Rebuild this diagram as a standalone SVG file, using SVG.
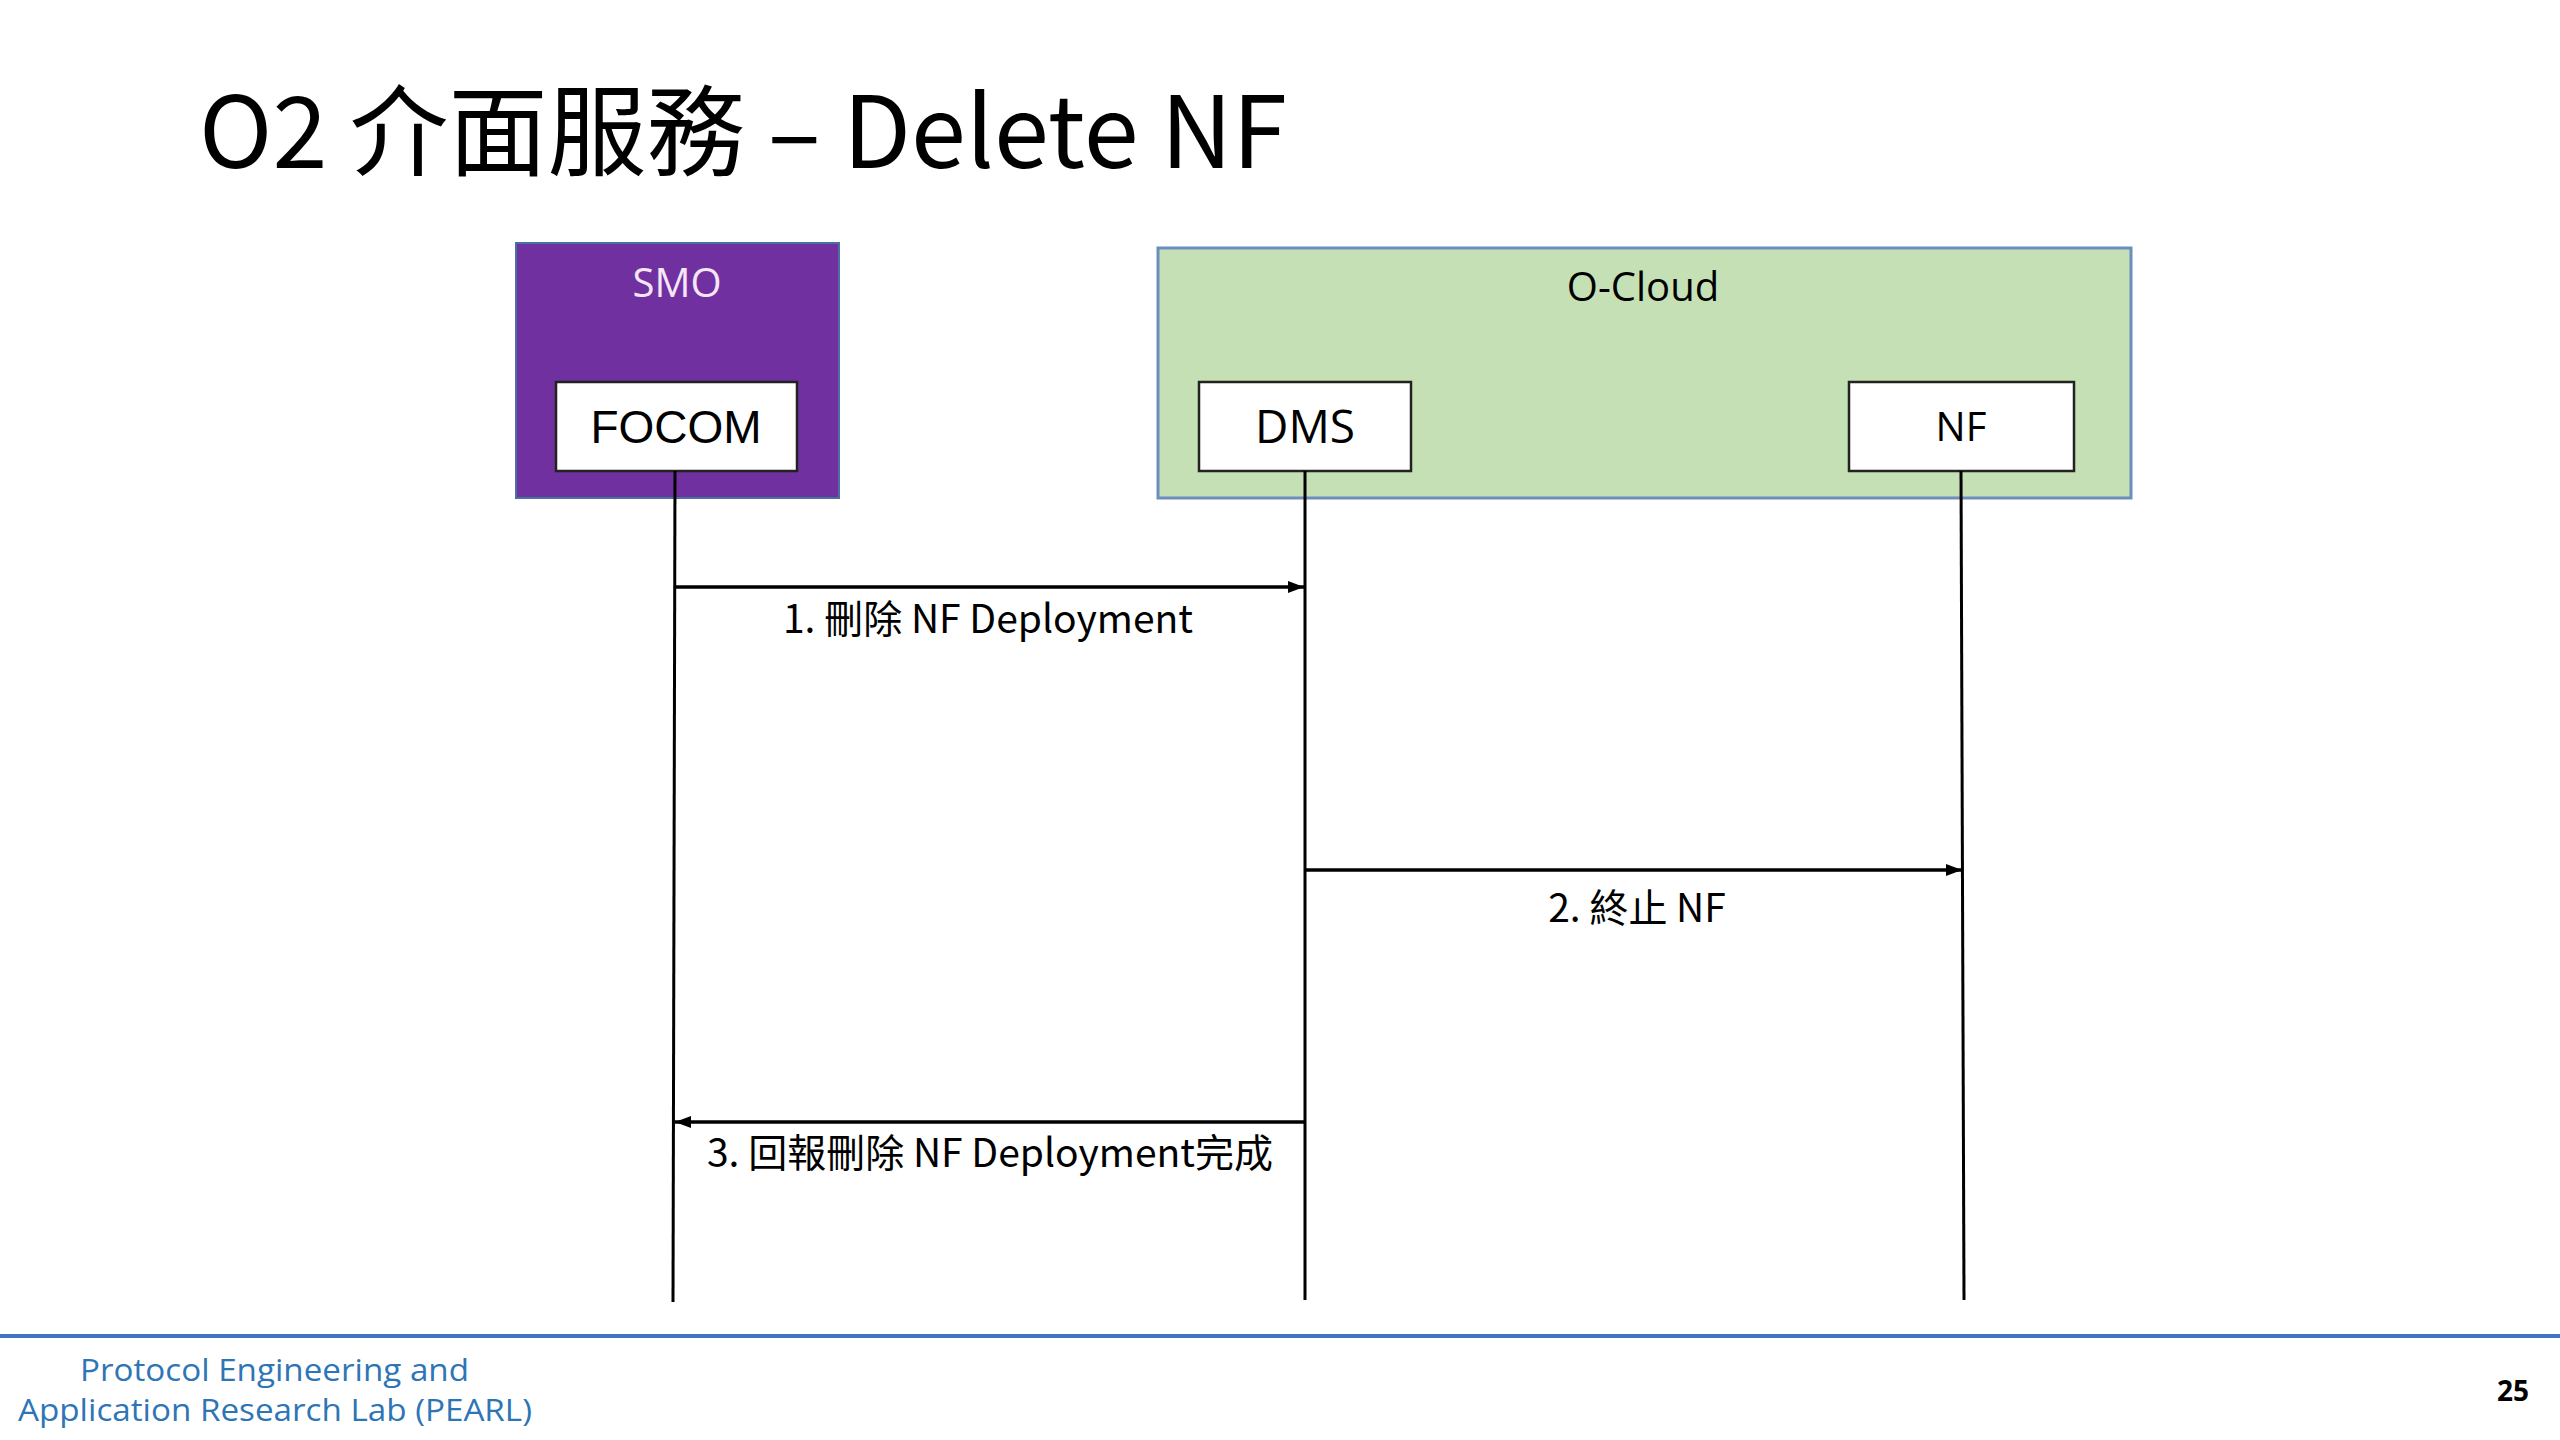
<svg xmlns="http://www.w3.org/2000/svg" width="2560" height="1440" viewBox="0 0 2560 1440">
<style>
.t{font-family:"Noto Sans CJK TC","Open Sans",sans-serif;fill:#000}
.lab{font-family:"Noto Sans CJK TC","Open Sans",sans-serif;font-size:39px;fill:#000;text-anchor:middle}
.life{stroke:#000;stroke-width:3;fill:none}
.msg{stroke:#000;stroke-width:3.5;fill:none}
.box{fill:#fff;stroke:#222;stroke-width:2.5}
.foot{font-family:"Open Sans","Noto Sans CJK TC",sans-serif;font-size:31px;fill:#2E75B6}
</style>
<defs>
<marker id="ah" viewBox="0 0 16 12" refX="16" refY="6" markerWidth="16" markerHeight="12" markerUnits="userSpaceOnUse" orient="auto">
<path d="M0,0 L16,6 L0,12 Z" fill="#000"/>
</marker>
</defs>
<rect width="2560" height="1440" fill="#fff"/>
<text class="t" x="199" y="168" font-size="99">O2 介面服務 – Delete NF</text>

<g id="smo">
<rect x="516" y="243" width="323" height="255" fill="#7030A0" stroke="#4A6FA5" stroke-width="2"/>
<text x="677" y="297" font-family="'Open Sans','Noto Sans CJK TC',sans-serif" font-size="40" fill="#F4E6F7" text-anchor="middle">SMO</text>
</g>
<g id="ocloud">
<rect x="1158" y="248" width="973" height="250" fill="#C5E0B4" stroke="#6C8EBF" stroke-width="3"/>
<text x="1643" y="301" font-family="'Open Sans','Noto Sans CJK TC',sans-serif" font-size="40" fill="#000" text-anchor="middle">O-Cloud</text>
</g>
<g id="focom">
<rect class="box" x="556" y="382" width="241" height="89"/>
<text x="676" y="443" font-family="'Liberation Sans',Arial,sans-serif" font-size="46" fill="#000" text-anchor="middle">FOCOM</text>
</g>
<g id="dms">
<rect class="box" x="1199" y="382" width="212" height="89"/>
<text x="1305" y="443" font-family="'Open Sans','Noto Sans CJK TC',sans-serif" font-size="46" fill="#000" text-anchor="middle">DMS</text>
</g>
<g id="nf">
<rect class="box" x="1849" y="382" width="225" height="89"/>
<text x="1961" y="441" font-family="'Open Sans','Noto Sans CJK TC',sans-serif" font-size="40" fill="#000" text-anchor="middle">NF</text>
</g>

<g id="connectors">
<line class="life" x1="675" y1="471" x2="673" y2="1302"/>
<line class="life" x1="1305" y1="471" x2="1305" y2="1300"/>
<line class="life" x1="1961" y1="471" x2="1964" y2="1300"/>
<line class="msg" x1="675" y1="587" x2="1304" y2="587" marker-end="url(#ah)"/>
<line class="msg" x1="1305" y1="870" x2="1962" y2="870" marker-end="url(#ah)"/>
<line class="msg" x1="1305" y1="1122" x2="675" y2="1122" marker-end="url(#ah)"/>
</g>

<text class="lab" x="988" y="633">1. 刪除 NF Deployment</text>
<text class="lab" x="1637" y="922">2. 終止 NF</text>
<text class="lab" x="990" y="1167">3. 回報刪除 NF Deployment完成</text>

<line x1="0" y1="1336" x2="2560" y2="1336" stroke="#4472C4" stroke-width="4"/>
<text class="foot" x="80" y="1381" textLength="389" lengthAdjust="spacingAndGlyphs">Protocol Engineering and</text>
<text class="foot" x="18" y="1421" textLength="514" lengthAdjust="spacingAndGlyphs">Application Research Lab (PEARL)</text>
<text x="2513" y="1401" font-family="'Open Sans','Noto Sans CJK TC',sans-serif" font-size="28" font-weight="bold" fill="#000" text-anchor="middle">25</text>
</svg>
